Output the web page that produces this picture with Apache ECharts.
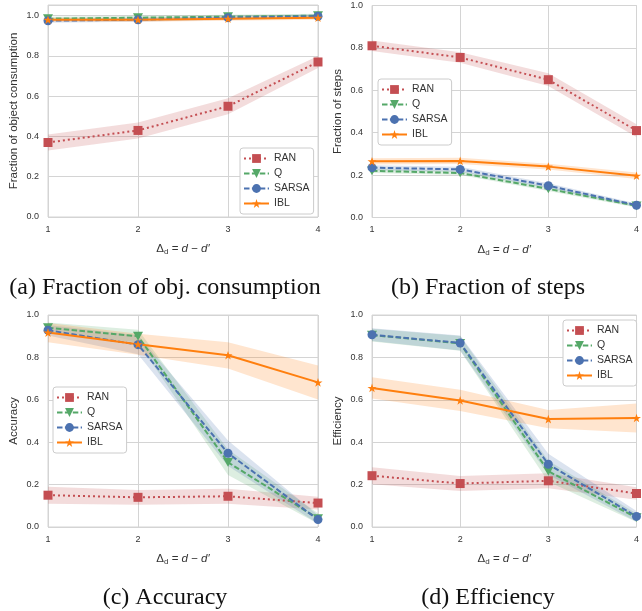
<!DOCTYPE html>
<html>
<head>
<meta charset="utf-8">
<script src="https://cdn.jsdelivr.net/npm/echarts@6/dist/echarts.min.js"></script>
<style>
html,body{margin:0;padding:0;background:#fff;}
#chart{width:642px;height:611px;}
</style>
</head>
<body>
<div id="chart"></div>
<script>
// ---- data ----
const xValues = [1, 2, 3, 4];
const seriesNames = ['RAN', 'Q', 'SARSA', 'IBL'];

// (a) Fraction of object consumption
const consRAN = [0.37, 0.43, 0.55, 0.77];
const consRANci = [0.04, 0.04, 0.04, 0.03];
const consQ = [0.985, 0.99, 0.995, 1.0];
const consQci = [0.01, 0.01, 0.01, 0.01];
const consSARSA = [0.975, 0.98, 0.99, 0.997];
const consSARSAci = [0.01, 0.01, 0.01, 0.01];
const consIBL = [0.98, 0.98, 0.985, 0.99];
const consIBLci = [0.01, 0.01, 0.01, 0.01];

// (b) Fraction of steps
const stepsRAN = [0.81, 0.755, 0.65, 0.41];
const stepsRANci = [0.025, 0.025, 0.03, 0.03];
const stepsQ = [0.22, 0.21, 0.135, 0.055];
const stepsQci = [0.01, 0.01, 0.01, 0.008];
const stepsSARSA = [0.235, 0.227, 0.15, 0.058];
const stepsSARSAci = [0.012, 0.012, 0.012, 0.008];
const stepsIBL = [0.265, 0.267, 0.24, 0.197];
const stepsIBLci = [0.015, 0.015, 0.013, 0.015];

// (c) Accuracy
const accRAN = [0.15, 0.14, 0.145, 0.113];
const accRANci = [0.04, 0.035, 0.035, 0.03];
const accQ = [0.94, 0.90, 0.305, 0.04];
const accQci = [0.025, 0.03, 0.06, 0.025];
const accSARSA = [0.928, 0.86, 0.348, 0.035];
const accSARSAci = [0.025, 0.045, 0.06, 0.02];
const accIBL = [0.917, 0.862, 0.81, 0.682];
const accIBLci = [0.045, 0.05, 0.062, 0.08];

// (d) Efficiency
const effRAN = [0.242, 0.205, 0.218, 0.158];
const effRANci = [0.04, 0.035, 0.035, 0.03];
const effQ = [0.905, 0.866, 0.263, 0.044];
const effQci = [0.03, 0.035, 0.05, 0.02];
const effSARSA = [0.907, 0.868, 0.296, 0.05];
const effSARSAci = [0.03, 0.035, 0.05, 0.025];
const effIBL = [0.656, 0.597, 0.509, 0.514];
const effIBLci = [0.05, 0.05, 0.043, 0.068];

const yLabels = ['Fraction of object consumption', 'Fraction of steps', 'Accuracy', 'Efficiency'];
const captions = ['(a) Fraction of obj. consumption', '(b) Fraction of steps', '(c) Accuracy', '(d) Efficiency'];

const panelData = [
  [[consRAN, consRANci], [consQ, consQci], [consSARSA, consSARSAci], [consIBL, consIBLci]],
  [[stepsRAN, stepsRANci], [stepsQ, stepsQci], [stepsSARSA, stepsSARSAci], [stepsIBL, stepsIBLci]],
  [[accRAN, accRANci], [accQ, accQci], [accSARSA, accSARSAci], [accIBL, accIBLci]],
  [[effRAN, effRANci], [effQ, effQci], [effSARSA, effSARSAci], [effIBL, effIBLci]]
];

// ---- styles ----
const colors = ['#c44e52', '#55a868', '#4c72b0', '#ff7f0e'];
const bandColors = ['rgba(196,78,82,0.2)', 'rgba(85,168,104,0.2)', 'rgba(76,114,176,0.2)', 'rgba(255,127,14,0.2)'];
const lineTypes = [[2, 3], [5.5, 2.4], [5.5, 2.4], 'solid'];
const symbols = [
  'rect',
  'path://M0,0 L10,0 L5,8.7 Z',
  'circle',
  'path://M50,0 L61.8,35.3 L98,35.3 L68.6,57 L79.4,92 L50,70.5 L20.6,92 L31.4,57 L2,35.3 L38.2,35.3 Z'
];
const symbolSizes = [9, 10, 9, 9];

const grids = [
  {left: 48, top: 5, width: 270, height: 212},
  {left: 372, top: 5.5, width: 270, height: 212},
  {left: 48, top: 315, width: 270, height: 212},
  {left: 372, top: 315, width: 270, height: 212}
];
const yMax = [1.053, 1, 1, 1];
const legendPos = [
  {left: 240, top: 148},
  {left: 378, top: 79},
  {left: 53, top: 387},
  {left: 563, top: 320}
];
const captionPos = [[165, 288], [488, 288], [165, 598], [488, 598]];

const FONT = 'Liberation Sans';
const textColor = '#333333';
const gridColor = '#d4d4d4';

const option = {
  animation: false,
  backgroundColor: '#ffffff',
  grid: grids.map(g => Object.assign({show: true, borderColor: gridColor, borderWidth: 1, backgroundColor: '#fff'}, g)),
  xAxis: grids.map((g, i) => ({
    type: 'value', gridIndex: i, min: 1, max: 4, interval: 1,
    name: 'Δ{sub|d} = {it|d} − {it|d′}',
    nameLocation: 'middle', nameGap: 25,
    nameTextStyle: {
      fontFamily: FONT, fontSize: 11.5, color: textColor,
      rich: {
        sub: {fontSize: 8, fontFamily: FONT, color: textColor, padding: [6, 0, 0, 0]},
        it: {fontSize: 11.5, fontStyle: 'italic', fontFamily: FONT, color: textColor}
      }
    },
    axisLine: {show: false}, axisTick: {show: false},
    axisLabel: {fontFamily: FONT, fontSize: 9, color: textColor, margin: 8, formatter: v => String(v)},
    splitLine: {show: true, lineStyle: {color: gridColor, width: 1}}
  })),
  yAxis: grids.map((g, i) => ({
    type: 'value', gridIndex: i, min: 0, max: yMax[i], interval: 0.2,
    name: yLabels[i], nameLocation: 'middle', nameGap: 28.5, nameRotate: 90,
    nameTextStyle: {fontFamily: FONT, fontSize: 11.5, color: textColor},
    axisLine: {show: false}, axisTick: {show: false},
    axisLabel: {fontFamily: FONT, fontSize: 9, color: textColor, margin: 9, showMaxLabel: i !== 0,
      formatter: v => v.toFixed(1)},
    splitLine: {show: true, lineStyle: {color: gridColor, width: 1}}
  })),
  legend: legendPos.map(p => ({
    data: seriesNames, orient: 'vertical', left: p.left, top: p.top,
    padding: [5, 4, 5, 3], itemGap: 4, itemWidth: 25, itemHeight: 11,
    backgroundColor: '#ffffff', borderColor: '#cccccc', borderWidth: 1, borderRadius: 3,
    textStyle: {fontFamily: FONT, fontSize: 10.5, color: textColor},
    selectedMode: false
  })),
  graphic: captions.map((c, i) => ({
    type: 'text', x: captionPos[i][0], y: captionPos[i][1],
    style: {text: c, fontFamily: 'Liberation Serif', fontSize: 24, fill: '#111',
      textAlign: 'center', textVerticalAlign: 'middle'}
  })),
  series: []
};

function bandSeries(p, s, mean, ci) {
  const lo = mean.map((m, k) => m - ci[k]);
  const hi = mean.map((m, k) => m + ci[k]);
  return {
    type: 'custom', name: '_band', xAxisIndex: p, yAxisIndex: p, silent: true, z: 1,
    data: xValues.map((x, k) => [x, lo[k], hi[k]]),
    encode: {x: 0, y: [1, 2]},
    clip: true,
    renderItem: function (params, api) {
      if (params.dataIndex !== 0) return null;
      const pts = [];
      for (let k = 0; k < xValues.length; k++) pts.push(api.coord([xValues[k], hi[k]]));
      for (let k = xValues.length - 1; k >= 0; k--) pts.push(api.coord([xValues[k], lo[k]]));
      const cs = params.coordSys;
      return {
        type: 'polygon', shape: {points: pts},
        style: {fill: bandColors[s]},
        clipPath: {type: 'rect', shape: {x: cs.x, y: cs.y, width: cs.width, height: cs.height}}
      };
    }
  };
}

panelData.forEach((panel, p) => {
  panel.forEach(([mean, ci], s) => {
    option.series.push(bandSeries(p, s, mean, ci));
  });
  panel.forEach(([mean, ci], s) => {
    option.series.push({
      type: 'line', name: seriesNames[s], xAxisIndex: p, yAxisIndex: p,
      data: xValues.map((x, k) => [x, mean[k]]),
      color: colors[s],
      symbol: symbols[s], symbolSize: symbolSizes[s], symbolKeepAspect: true,
      showSymbol: true,
      itemStyle: {color: colors[s]},
      lineStyle: {color: colors[s], width: 2, type: lineTypes[s]},
      z: 3
    });
  });
});

const chart = echarts.init(document.getElementById('chart'), null, {renderer: 'canvas'});
chart.setOption(option);
</script>
</body>
</html>
